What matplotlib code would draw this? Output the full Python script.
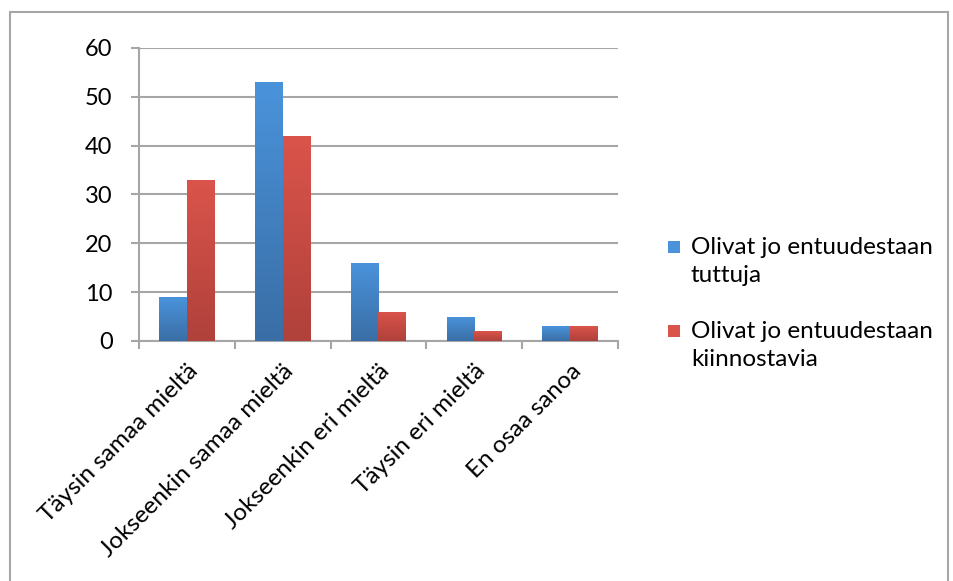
import numpy as np
import matplotlib
matplotlib.use("Agg")
import matplotlib.pyplot as plt
from matplotlib.colors import LinearSegmentedColormap
from matplotlib.patches import Rectangle, Patch
from matplotlib.legend_handler import HandlerPatch

plt.rcParams['font.family'] = ['Lato', 'DejaVu Sans']

categories = ["Täysin samaa mieltä", "Jokseenkin samaa mieltä", "Jokseenkin eri mieltä",
              "Täysin eri mieltä", "En osaa sanoa"]
tuttuja = [9, 53, 16, 5, 3]
kiinnostavia = [33, 42, 6, 2, 3]
series_names = ["Olivat jo entuudestaan\ntuttuja", "Olivat jo entuudestaan\nkiinnostavia"]

# gradient colours (top, bottom)
blue = ("#4a93db", "#3a6ea6")
red = ("#da544b", "#b0413b")

fig = plt.figure(figsize=(9.54, 5.81), dpi=100)
ax = fig.add_axes([0.1457, 0.4131, 0.5021, 0.5043])

# outer chart border
fig.patches.append(Rectangle((10 / 954, -0.01), 938 / 954, 1 - 12 / 581 + 0.01,
                             transform=fig.transFigure, fill=False,
                             edgecolor="#a6a6a6", linewidth=1.5))

x = np.arange(len(categories))
w = 0.29


def grad_bars(xs, vals, cols):
    cmap = LinearSegmentedColormap.from_list("g", [cols[1], cols[0]])
    bars = ax.bar(xs, vals, w, facecolor="none", edgecolor="none", zorder=3)
    for b in bars:
        x0, y0 = b.get_x(), b.get_y()
        im = ax.imshow(np.linspace(0, 1, 100).reshape(-1, 1),
                       extent=[x0, x0 + b.get_width(), y0, y0 + b.get_height()],
                       origin="lower", aspect="auto", cmap=cmap, zorder=3)
        im.set_clip_path(b)
    return bars


grad_bars(x - w / 2, tuttuja, blue)
grad_bars(x + w / 2, kiinnostavia, red)

ax.set_xlim(-0.5, len(categories) - 0.5)
ax.set_ylim(0, 60)
ax.set_yticks(range(0, 61, 10))
ax.yaxis.grid(True, color="#a6a6a6", linewidth=1.5)
ax.set_axisbelow(True)

ax.set_xticks(x)
ax.set_xticklabels(categories, rotation=45, ha="right", va="top", rotation_mode="anchor", fontsize=17.5)
ax.set_xticks(np.arange(-0.5, len(categories), 1), minor=True)
ax.tick_params(axis="x", which="major", length=0, pad=14)
ax.tick_params(axis="x", which="minor", length=6, width=1.5, color="#a6a6a6")
ax.tick_params(axis="y", length=6, width=1.5, color="#a6a6a6", labelsize=17, pad=13)

for s in ["top", "right"]:
    ax.spines[s].set_visible(False)
for s in ["left", "bottom"]:
    ax.spines[s].set_color("#a6a6a6")
    ax.spines[s].set_linewidth(1.5)


class TopSquare(HandlerPatch):
    # square marker sitting next to the first line of a two-line label
    def create_artists(self, legend, orig_handle, xdescent, ydescent, width, height, fontsize, trans):
        s = 0.5 * fontsize
        r = Rectangle((-xdescent, -ydescent + height - s + 0.05 * fontsize), s, s,
                      facecolor=orig_handle.get_facecolor(), edgecolor="none", transform=trans)
        return [r]


handles = [Patch(facecolor=blue[0]), Patch(facecolor=red[0])]
leg = fig.legend(handles, series_names, loc="upper left", bbox_to_anchor=(0.677, 0.63),
                 frameon=False, fontsize=17.5, handlelength=0.5, handleheight=2.2,
                 handletextpad=0.45, labelspacing=1.4,
                 handler_map={Patch: TopSquare()})
for t in leg.get_texts():
    t.set_linespacing(1.45)

fig.savefig("out.png", dpi=100)
